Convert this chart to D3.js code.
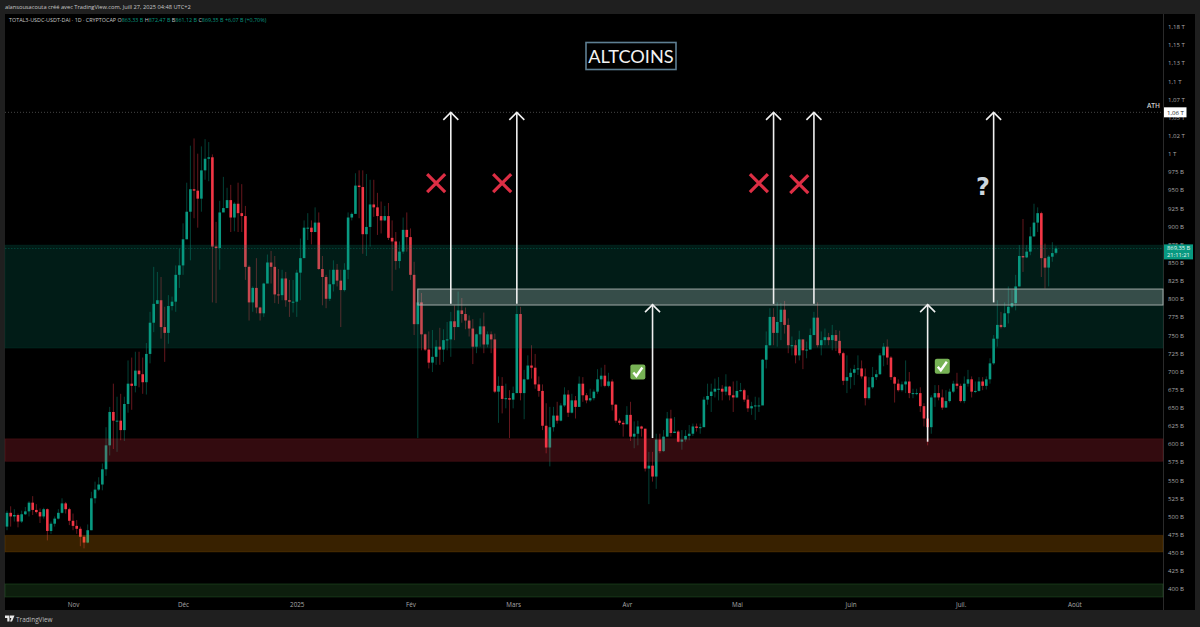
<!DOCTYPE html>
<html><head><meta charset="utf-8">
<script src="https://cdn.jsdelivr.net/npm/d3@7/dist/d3.min.js"></script>
<style>html,body{margin:0;padding:0;background:#1f1f1f;overflow:hidden}svg{display:block}text{font-family:"Open Sans",sans-serif}</style>
</head><body><svg id="c" width="1200" height="627"></svg>
<script>
const closes=[505,500,502,493,503,507,519,509,506,500,
510,480,490,497,505,518,510,494,487,483,
472,464,481,525,537,544,565,598,644,632,
632,619,655,683,680,701,696,685,724,767,
793,798,761,753,790,796,833,846,882,920,
951,949,938,977,993,995,872,870,919,925,
936,912,931,918,914,844,795,815,788,780,
821,850,844,806,805,828,798,796,796,836,
856,898,898,892,905,841,830,800,820,840,
825,812,840,912,917,956,954,889,899,930,
926,914,908,914,884,879,852,865,895,885,
833,765,795,751,730,712,720,734,730,743,
744,769,761,784,779,770,759,734,751,762,
737,751,744,672,680,662,663,661,670,779,
670,689,708,705,682,673,625,595,623,639,
632,653,668,643,660,651,683,667,660,663,
672,689,694,680,686,654,632,629,627,640,
610,614,624,621,566,570,555,606,590,610,
635,615,617,603,606,611,614,624,622,623,
661,666,672,676,676,672,679,667,664,673,
674,661,649,652,653,653,716,736,775,753,
768,785,764,736,736,722,744,729,730,750,
774,736,743,747,743,750,742,725,687,692,
698,703,704,693,663,678,692,696,722,734,
719,692,683,674,682,686,670,670,670,652,
635,623,664,670,664,650,659,672,683,680,
659,683,689,672,673,686,680,689,711,745,
764,761,780,789,794,817,859,857,865,886,
905,918,856,843,858,863,869.35];
const highs=[508,514,510,504,508,513,521,528,517,511,
512,511,493,500,510,525,520,512,504,495,
486,474,489,534,548,554,573,623,651,683,
665,669,665,715,719,727,727,719,739,782,
844,837,830,789,805,803,846,869,904,960,
1011,1021,1000,1010,1020,1016,999,906,935,968,
953,957,933,960,958,928,846,817,856,789,
822,861,866,859,841,840,837,826,826,840,
883,908,918,908,926,919,859,833,840,853,
848,840,849,919,919,973,977,977,972,964,
964,946,934,928,932,908,892,879,912,919,
897,851,814,808,752,755,757,743,760,758,
768,782,791,810,801,788,777,772,752,773,
781,755,755,752,693,692,683,674,679,790,
789,702,722,736,724,693,682,656,651,651,
658,656,678,674,669,666,693,692,670,676,
675,703,705,709,698,689,655,635,632,652,
658,631,632,625,620,589,589,614,614,619,
644,647,637,619,619,619,626,628,628,628,
665,683,683,690,692,681,696,680,686,687,
684,676,667,658,665,664,717,755,787,787,
795,794,797,773,748,743,756,744,741,759,
782,795,755,759,753,764,757,756,727,722,
704,709,722,715,704,692,706,702,725,739,
744,721,693,689,686,715,699,676,676,678,
656,640,667,681,681,675,674,676,687,698,
683,693,702,693,686,692,692,693,718,750,
798,782,795,817,812,833,874,910,874,899,
931,926,920,876,860,878,872.47];
const lows=[481,486,493,485,491,502,500,502,504,491,
497,467,476,486,496,504,504,488,481,476,
459,456,463,481,518,535,536,556,584,593,
589,605,604,643,647,671,678,669,668,711,
754,793,745,713,738,784,782,815,833,882,
853,911,898,920,964,962,795,794,840,920,
925,892,893,892,892,826,770,782,780,770,
775,828,821,794,793,798,789,775,781,775,
798,857,881,875,892,840,791,787,797,810,
817,761,810,827,908,918,911,862,859,872,
913,888,890,907,881,811,840,842,862,865,
826,750,608,729,728,704,699,709,709,713,
729,720,743,761,767,758,748,710,725,734,
725,733,725,670,629,642,649,608,649,670,
660,634,688,690,676,665,619,587,569,617,
628,631,651,637,642,635,651,658,656,658,
660,669,679,678,678,646,629,626,610,627,
604,594,598,610,562,517,548,538,587,589,
610,610,617,602,592,603,605,611,617,614,
624,654,644,664,660,660,667,660,644,663,
672,658,644,640,633,644,654,704,735,736,
734,743,752,725,722,711,715,703,718,733,
750,733,722,736,736,729,728,722,681,670,
676,681,695,690,653,661,676,688,695,707,
709,688,657,672,672,670,663,663,667,644,
624,598,614,651,660,647,650,657,670,676,
657,656,679,664,670,672,674,675,683,709,
734,759,760,766,787,784,817,837,856,860,
885,892,830,814,817,851,861.12];
const firstOpen=486;
const lastOpen=863.33;
const tickValuesB=[400,425,450,475,500,525,550,575,600,625,650,675,700,725,750,775,800,825,850,875,900,925,950,975,1000,1025,1050,1075,1100,1125,1150,1175];
const tickLabels=["400 B","425 B","450 B","475 B","500 B","525 B","550 B","575 B","600 B","625 B","650 B","675 B","700 B","725 B","750 B","775 B","800 B","825 B","850 B","875 B","900 B","925 B","950 B","975 B","1 T","1,02 T","1,05 T","1,07 T","1,1 T","1,13 T","1,15 T","1,18 T"];
const monthDates=["2024-11-01","2024-12-01","2025-01-01","2025-02-01","2025-03-01","2025-04-01","2025-05-01","2025-06-01","2025-07-01","2025-08-01"];
const monthLabels=["Nov","Déc","2025","Fév","Mars","Avr","Mai","Juin","Juil.","Août"];
const arrowDay=[121.1,139.1,176.2,209.2,220.1,251.2,269.2];
const arrowFrom=[793,793,608,793,793,603,795];
const arrowTo=[1057,1057,792,1057,1057,792,1057];
const crossDay=[117,135,205.4,216];
const crossVal=[959.5,959.5,959.5,958];
const checkDay=[172,255];
const checkVal=[699,707];
const zoneNames=["teal","red","orange","green"];
const zoneTop=[874,607,474,407];
const zoneBottom=[732,576,451,389];
const zoneFill=["rgba(8,153,129,.18)","rgba(242,54,69,.21)","rgba(255,152,0,.22)","rgba(76,175,80,.17)"];
const zoneStroke=["rgba(8,153,129,.10)","rgba(242,54,69,.14)","rgba(255,152,0,.12)","rgba(76,175,80,.22)"];
const boxTop=813.4, boxBottom=791.4, boxStartDay=112;
const athValue=1057, lastPrice=869.35;

const parse=d3.utcParse("%Y-%m-%d");
const start=parse("2024-10-14");
const candles=closes.map((c,i)=>({date:d3.utcDay.offset(start,i),
  o:i===0?firstOpen:(i===closes.length-1?lastOpen:closes[i-1]),c,h:highs[i],l:lows[i]}));
const svg=d3.select("#c");
const x=d3.scaleUtc().domain([start,d3.utcDay.offset(start,286)]).range([7,1056]);
const xd=d=>x(d3.utcDay.offset(start,d));
const y=d3.scaleLinear().domain([400,1175]).range([589,26.7]);
const L=5,R=1163,T=14,B=610,RR=1195;
svg.append("rect").attr("x",L).attr("y",T).attr("width",RR-L).attr("height",B-T).attr("fill","#000");
svg.append("line").attr("x1",R+.5).attr("x2",R+.5).attr("y1",T).attr("y2",B).attr("stroke","#2a2a2a");

const GREEN="#089981",RED="#f23645";
const g=svg.append("g");
g.selectAll(".w").data(candles).join("line").attr("x1",d=>x(d.date)).attr("x2",d=>x(d.date))
 .attr("y1",d=>y(d.h)).attr("y2",d=>y(d.l)).attr("stroke",d=>d.c>=d.o?GREEN:RED).attr("stroke-opacity",.42).attr("stroke-width",1);
g.selectAll(".b").data(candles).join("rect").attr("x",d=>x(d.date)-1.3).attr("width",2.6)
 .attr("y",d=>y(Math.max(d.o,d.c))).attr("height",d=>Math.max(1,Math.abs(y(d.o)-y(d.c)))).attr("fill",d=>d.c>=d.o?GREEN:RED);

zoneNames.forEach((n,i)=>{svg.append("rect").attr("x",L).attr("width",R-L).attr("y",y(zoneTop[i])).attr("height",y(zoneBottom[i])-y(zoneTop[i]))
 .attr("fill",zoneFill[i]).attr("stroke",zoneStroke[i]);});
svg.append("line").attr("x1",L).attr("x2",R).attr("y1",y(lastPrice)).attr("y2",y(lastPrice)).attr("stroke",GREEN).attr("stroke-opacity",.32).attr("stroke-dasharray","1.5 1.5");
svg.append("line").attr("x1",L).attr("x2",R).attr("y1",y(athValue)).attr("y2",y(athValue)).attr("stroke","#454545").attr("stroke-dasharray","1 2");
svg.append("rect").attr("x",xd(boxStartDay)).attr("width",R-xd(boxStartDay)).attr("y",y(boxTop)).attr("height",y(boxBottom)-y(boxTop))
 .attr("fill","rgba(215,225,222,.25)").attr("stroke","#9fa8a6").attr("stroke-width",1);

arrowDay.forEach((d,i)=>{const ax=xd(d),y0=y(arrowFrom[i]),y1=y(arrowTo[i]);
 svg.append("line").attr("x1",ax).attr("x2",ax).attr("y1",y0).attr("y2",y1).attr("stroke","#f0f0f0").attr("stroke-width",1.6);
 svg.append("path").attr("d",d3.line()([[ax-7.5,y1+7.5],[ax,y1],[ax+7.5,y1+7.5]])).attr("fill","none").attr("stroke","#f0f0f0").attr("stroke-width",1.6);});
crossDay.forEach((d,i)=>{const cx=xd(d),cy=y(crossVal[i]),s=9;
 svg.append("path").attr("d",`M${cx-s},${cy-s}L${cx+s},${cy+s}M${cx+s},${cy-s}L${cx-s},${cy+s}`).attr("stroke","#dd2e44").attr("stroke-width",3.2).attr("fill","none");});
checkDay.forEach((d,i)=>{const cx=xd(d),cy=y(checkVal[i]);
 svg.append("rect").attr("x",cx-7.5).attr("y",cy-7.5).attr("width",15).attr("height",15).attr("rx",2).attr("fill","#77b255");
 svg.append("path").attr("d",`M${cx-4.5},${cy+.5}L${cx-1.5},${cy+4}L${cx+4.5},${cy-4.5}`).attr("fill","none").attr("stroke","#fff").attr("stroke-width",2.4);});
svg.append("text").attr("x",983).attr("y",195).attr("text-anchor","middle").attr("fill","#ccd6dd").attr("font-size",24).attr("font-weight",800).style("font-family","'DejaVu Sans'").text("?");

const ya=d3.axisRight(y).tickValues(tickValuesB).tickSize(0).tickFormat(v=>tickLabels[tickValuesB.indexOf(v)]);
const yg=svg.append("g").attr("transform",`translate(${R+1},0)`).call(ya);
yg.select(".domain").remove();
yg.selectAll("text").attr("x",4).attr("fill","#a8a8a8").attr("font-size",6.1).style("font-family","'Open Sans'");
const xa=d3.axisBottom(x).tickValues(monthDates.map(parse)).tickSize(0).tickFormat((d,i)=>monthLabels[i]);
const xg=svg.append("g").attr("transform","translate(0,598)").call(xa);
xg.select(".domain").remove();
xg.selectAll("text").attr("dy",0).attr("y",8.5).attr("fill","#a8a8a8").attr("font-size",6.3).style("font-family","'Open Sans'");

// price tags
svg.append("rect").attr("x",R+1).attr("y",y(athValue)-5).attr("width",22.5).attr("height",10).attr("fill","#fff");
svg.append("text").attr("x",R+4).attr("y",y(athValue)+2.3).attr("fill","#222").attr("font-size",6.1).text("1,06 T");
svg.append("text").attr("x",R-3).attr("y",y(athValue)-4.5).attr("text-anchor","end").attr("fill","#d0d0d0").attr("font-size",6.6).attr("font-weight",600).text("ATH");
svg.append("rect").attr("x",R+1).attr("y",244.4).attr("width",29).attr("height",15).attr("fill",GREEN);
svg.append("text").attr("x",R+4).attr("y",250).attr("fill","#e8f5f2").attr("font-size",5.8).text("869,35 B");
svg.append("text").attr("x",R+4).attr("y",257.2).attr("fill","#e8f5f2").attr("font-size",5.8).text("21:11:21");

// title
svg.append("rect").attr("x",586).attr("y",42.5).attr("width",90).attr("height",27).attr("fill","#000").attr("stroke","#5e7f93").attr("stroke-width",1.6);
svg.append("text").attr("x",631).attr("y",62.5).attr("text-anchor","middle").attr("fill","#f2f2f2").attr("font-size",18.2).style("font-family","Lato").text("ALTCOINS");

// header
svg.append("text").attr("x",5).attr("y",9).attr("fill","#c8c8c8").attr("font-size",5.7).text("alansousacouta créé avec TradingView.com, Juill 27, 2025 04:48 UTC+2");
const lg=svg.append("text").attr("x",9).attr("y",22).attr("font-size",5.4).attr("fill","#c8c8c8");
lg.append("tspan").text("TOTAL3-USDC-USDT-DAI · 1D · CRYPTOCAP  O");
lg.append("tspan").attr("fill",GREEN).text("863,33 B ");
lg.append("tspan").text(" H");
lg.append("tspan").attr("fill",GREEN).text("872,47 B ");
lg.append("tspan").text(" B");
lg.append("tspan").attr("fill",GREEN).text("861,12 B ");
lg.append("tspan").text(" C");
lg.append("tspan").attr("fill",GREEN).text("869,35 B  +6,07 B (+0,70%)");

// footer logo
svg.append("path").attr("d","M5,615.5h4.5v6h-2.2v-3.6H5zM10,615.5h4.5l-2.5,6h-2l1.4-3.4H10z").attr("fill","#e8e8e8");
svg.append("text").attr("x",16).attr("y",621.5).attr("fill","#bdbdbd").attr("font-size",6.4).text("TradingView");
</script></body></html>
